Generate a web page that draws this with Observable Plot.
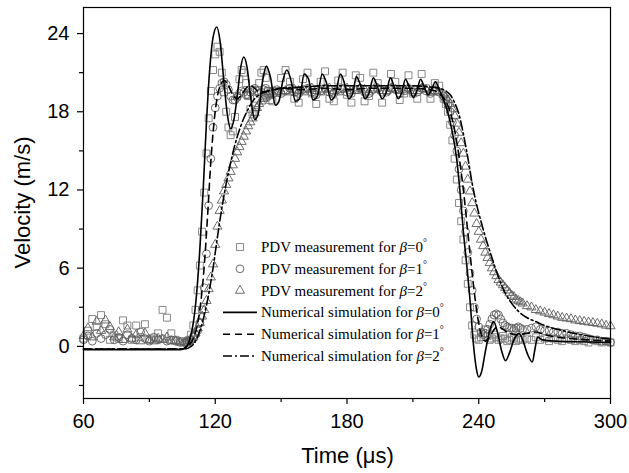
<!DOCTYPE html>
<html>
<head>
<meta charset="utf-8">
<script src="https://cdn.jsdelivr.net/npm/d3@7"></script>
<script src="https://cdn.jsdelivr.net/npm/@observablehq/plot@0.6"></script>
<style>
  html, body { margin: 0; padding: 0; background: white; }
  #chart { width: 629px; height: 473px; }
</style>
</head>
<body>
<div id="chart"></div>
<script>
// ---- axis ticks ----
const xTicks = [60, 120, 180, 240, 300];
const xMinor = [90, 150, 210, 270];
const yTicks = [0, 6, 12, 18, 24];
const yMinor = [-3, 3, 9, 15, 21];
const xLabel = "Time (μs)";
const yLabel = "Velocity (m/s)";

// ---- PDV measurement sampling times (µs) ----
const tMeas = [
  60,62,64,66,68,70,72,74,76,78,80,82,84,86,88,90,92,94,96,98,100,102,104,106,
  107,108,109,110,111,112,113,114,115,116,117,118,119,120,121,122,123,124,125,126,127,128,129,130,131,132,133,134,135,136,137,138,139,140,141,142,143,144,145,146,
  148,150,152,154,156,158,160,162,164,166,168,170,172,174,176,178,180,182,184,186,188,190,192,194,196,198,200,202,204,206,208,210,212,214,216,218,220,222,224,
  225,226,227,228,229,230,231,232,233,234,235,236,237,238,239,240,241,242,243,244,245,246,247,248,249,250,251,252,253,254,255,256,257,258,259,260,
  262,264,266,268,270,272,274,276,278,280,282,284,286,288,290,292,294,296,298,300
];
// PDV measurement, beta = 0 (squares)
const pdvBeta0 = [
  0.6,1.2,2.1,1.5,2.4,1.7,0.5,0.9,0.6,2.0,1.6,0.5,1.6,0.7,1.7,0.5,0.6,1.0,2.8,2.2,1.0,0.5,0.4,0.3,
  0.3,0.5,0.9,1.6,2.8,4.3,6.2,8.8,11.8,14.8,17.5,19.6,21.2,22.4,23.0,22.6,21.0,19.5,18.0,16.8,16.2,16.5,17.6,19.2,20.5,21.2,21.0,20.2,19.2,18.2,17.8,18.0,19.0,20.2,21.0,21.2,20.6,19.6,18.9,18.8,
  19.6,20.6,21.2,20.3,19.0,18.7,20.5,21.0,19.4,18.6,20.3,21.1,19.0,18.8,20.4,21.0,19.3,18.7,20.8,20.6,18.8,19.2,21.0,20.2,18.7,19.6,20.9,20.3,18.9,19.4,20.8,19.4,19.0,20.9,19.8,19.0,20.2,20.0,19.0,
  18.6,18.0,17.0,15.8,14.4,12.8,11.0,9.6,8.2,6.6,4.8,3.0,1.6,0.9,0.6,0.5,0.7,1.0,1.3,0.8,0.5,0.6,0.9,0.7,0.5,0.6,0.8,0.6,0.4,0.5,0.7,0.6,0.4,0.5,0.6,0.5,
  0.6,0.5,0.7,0.5,0.6,0.4,0.6,0.5,0.4,0.6,0.5,0.4,0.5,0.4,0.3,0.5,0.4,0.3,0.4,0.3
];
// PDV measurement, beta = 1 (circles)
const pdvBeta1 = [
  0.5,0.8,0.4,1.0,0.6,0.9,1.3,0.5,0.7,0.4,0.9,0.6,0.5,1.1,0.6,0.4,0.7,0.5,0.6,0.4,0.5,0.4,0.3,0.3,
  0.3,0.4,0.5,0.7,0.9,1.2,1.8,2.8,4.5,7.1,10.8,14.4,16.8,18.3,19.2,19.8,20.2,20.3,20.1,19.7,19.2,18.9,18.9,19.1,19.4,19.6,19.5,19.3,19.3,19.5,19.7,19.8,19.6,19.4,19.5,19.7,19.8,19.6,19.5,19.6,
  19.7,19.4,19.6,19.8,19.5,19.4,19.7,19.8,19.5,19.3,19.6,19.8,19.5,19.4,19.7,19.8,19.5,19.4,19.7,19.8,19.5,19.4,19.7,19.8,19.5,19.5,19.8,19.7,19.4,19.6,19.8,19.5,19.5,19.8,19.6,19.4,19.6,19.5,19.2,
  18.9,18.5,18.0,17.2,16.2,15.0,13.6,12.0,10.4,8.8,7.2,5.6,4.3,3.0,2.1,1.5,1.1,0.9,1.0,1.3,1.7,2.1,2.4,2.5,2.4,2.1,1.8,1.6,1.5,1.4,1.4,1.3,1.4,1.5,1.4,1.3,
  1.3,1.4,1.5,1.3,1.2,1.2,1.1,1.1,1.0,1.0,0.9,0.8,0.8,0.7,0.6,0.5,0.5,0.4,0.4,0.3
];
// PDV measurement, beta = 2 (triangles)
const pdvBeta2 = [
  0.8,1.4,0.7,1.9,1.2,2.0,1.5,0.7,1.1,0.5,1.3,0.6,0.9,0.4,1.0,0.5,0.4,0.6,0.5,0.7,0.4,0.4,0.3,0.3,
  0.3,0.4,0.5,0.7,1.0,1.4,1.8,2.3,2.8,3.5,4.4,5.3,6.3,7.8,9.2,10.4,11.2,11.9,12.4,12.9,13.4,13.9,14.4,14.9,15.3,15.7,16.1,16.5,16.9,17.2,17.5,17.9,18.3,18.6,18.8,19.0,19.1,19.2,19.3,19.4,
  19.4,19.5,19.6,19.5,19.7,19.6,19.5,19.7,19.8,19.6,19.5,19.7,19.8,19.6,19.5,19.7,19.8,19.6,19.6,19.8,19.7,19.5,19.7,19.8,19.6,19.6,19.8,19.7,19.6,19.7,19.8,19.6,19.6,19.8,19.7,19.5,19.6,19.5,19.3,
  19.1,18.9,18.6,18.2,17.7,17.1,16.4,15.6,14.8,13.8,12.8,11.9,11.0,10.2,9.4,8.8,8.2,7.7,7.2,6.8,6.4,6.0,5.7,5.4,5.1,4.9,4.7,4.5,4.3,4.1,3.9,3.8,3.6,3.5,3.4,3.3,
  3.1,3.0,2.8,2.7,2.6,2.5,2.4,2.3,2.2,2.15,2.1,2.0,1.95,1.9,1.85,1.8,1.75,1.7,1.6,1.55
];

// ---- numerical simulations ----
const simT0 = [60,104,107,108.5,110,111.5,113,114.5,116,117.5,119,120.7,122.2,124,125.5,127,128.5,130,131.5,133,134.5,136,138,139.5,141.5,143.3,145.2,147.4,149,150.8,152.6,154.5,156.5,158.4,160.5,162.5,164.5,166.5,168.7,170.5,172.8,174.7,177,179,180.8,182.6,184.3,186.2,188.2,190,192,193.9,196,197.9,199.8,201.5,203.3,205,206.6,208.3,210.2,211.8,213.5,215.2,217,218.7,220.3,222,224,226,228,230,231.5,233,234.5,236,237.5,239,240,241.2,243,245,246.8,248.5,250.5,252.2,254,256,258.3,260,262,264.4,265.6,266.8,269,275,285,300];
const simV0 = [-0.25,-0.25,0.0,0.6,1.8,4.0,7.5,12,17.2,21.3,23.7,24.5,23.4,20.2,17.8,16.7,17.4,19.2,21.3,22.2,21.4,19.3,17.4,17.8,20.3,21.5,20.6,18.5,18.8,20.4,21.2,20.4,18.8,19.0,20.9,20.5,18.9,19.2,20.9,20.3,18.9,19.3,20.9,20.1,19.0,19.4,20.7,20.0,19.0,19.4,20.6,19.9,19.0,19.5,20.6,19.9,19.0,19.5,20.5,19.9,19.1,19.6,20.5,19.9,19.3,19.8,20.3,19.7,18.9,17.9,16.4,14.3,11.8,8.8,6.3,3.6,0.3,-1.8,-2.35,-2.0,-0.4,1.2,1.9,1.1,-0.4,-1.1,-0.5,0.5,1.0,0.5,-0.5,-1.2,-0.2,0.7,0.5,0.4,0.35,0.3];
const simT1 = [60,105,108,110,112,113.5,115,116.5,118,119.5,121,122.5,124,126,128,130,132,134,136,138,140,145,150,160,170,180,190,200,210,218,222,225,227,229,231,233,235,237,239,241,243,245,247,249,251,254,258,262,266,270,276,282,290,300];
const simV1 = [-0.2,-0.2,0.1,0.6,1.8,3.5,6.2,10,14.2,17.3,19.2,20.1,20.4,20.0,19.3,19.0,19.3,19.8,20.0,19.8,19.5,19.6,19.8,19.7,19.8,19.7,19.8,19.8,19.8,19.7,19.4,18.8,18.0,16.6,14.6,12.0,8.8,5.6,2.8,1.0,0.4,0.7,1.3,1.5,1.3,1.0,0.9,1.0,1.1,0.9,0.7,0.6,0.5,0.4];
const simT2 = [60,106,109,111,113,115,117,119,121,123,125,127,129,131,133,135,137,140,144,150,160,170,180,190,200,210,218,222,225,227,229,231,233,235,237,239,241,243,246,249,252,255,258,262,266,270,276,282,290,300];
const simV2 = [-0.2,-0.2,0.0,0.4,1.2,2.4,4.0,6.0,8.4,10.6,12.5,14.1,15.5,16.6,17.5,18.2,18.8,19.3,19.6,19.8,19.9,20.0,20.0,20.0,20.0,20.0,19.9,19.8,19.6,19.3,18.7,17.8,16.3,14.5,12.5,10.9,9.6,8.4,6.8,5.3,4.1,3.3,2.7,2.2,1.9,1.6,1.3,1.05,0.8,0.55];

// ---- legend ----
const legendPrefix = ["PDV measurement for ", "PDV measurement for ", "PDV measurement for ",
                      "Numerical simulation for ", "Numerical simulation for ", "Numerical simulation for "];
const legendBeta = ["0", "1", "2", "0", "1", "2"];

// styles
const markerStyles = [
  {symbol: "square", r: 3.9, stroke: "#7a7a7a"},
  {symbol: "circle", r: 3.9, stroke: "#5e5e5e"},
  {symbol: "triangle", r: 3.4, stroke: "#5e5e5e"}
];
const lineDash = [null, "7,5", "9,3,2,3"];
const pdvSeries = [pdvBeta0, pdvBeta1, pdvBeta2];
const simSeries = [[simT0, simV0], [simT1, simV1], [simT2, simV2]];

const marks = [];
pdvSeries.forEach((vals, i) => {
  const s = markerStyles[i];
  marks.push(Plot.dot(tMeas, {x: tMeas, y: vals, symbol: s.symbol, r: s.r, stroke: s.stroke, fill: "none", strokeWidth: 0.9}));
});
simSeries.forEach(([ts, vs], i) => {
  marks.push(Plot.line(ts, {x: ts, y: vs, curve: "monotone-x", stroke: "black", strokeWidth: 1.6,
    strokeDasharray: lineDash[i] || undefined}));
});

const chart = Plot.plot({
  width: 629, height: 473,
  marginLeft: 83, marginRight: 19, marginTop: 7, marginBottom: 75,
  style: {fontFamily: "'Liberation Sans', Arial, sans-serif", fontSize: "20px", color: "black", background: "white"},
  x: {domain: [60, 300]},
  y: {domain: [-4, 26]},
  marks: [
    ...marks,
    Plot.frame({stroke: "black", strokeWidth: 1.2}),
    Plot.axisX({ticks: xTicks, tickSize: 6, tickPadding: 9, label: null, fontSize: 20, strokeWidth: 1.2}),
    Plot.axisX({ticks: xMinor, tickSize: 4, tickFormat: () => "", label: null, strokeWidth: 1.2}),
    Plot.axisY({ticks: yTicks, tickSize: 6, tickPadding: 8, label: null, fontSize: 20, strokeWidth: 1.2}),
    Plot.axisY({ticks: yMinor, tickSize: 4, tickFormat: () => "", label: null, strokeWidth: 1.2})
  ]
});
document.getElementById("chart").appendChild(chart);

const svg = d3.select(chart);
const xs = chart.scale("x"), ys = chart.scale("y");
const cx = (xs.range[0] + xs.range[1]) / 2;
const cy = (ys.range[0] + ys.range[1]) / 2;

// axis labels
svg.append("text").attr("x", cx + 1).attr("y", 463).attr("text-anchor", "middle")
  .attr("font-family", "'Liberation Sans', Arial, sans-serif").attr("font-size", 22).attr("font-weight", "normal").attr("fill", "black").text(xLabel);
svg.append("text").attr("transform", `translate(30,${cy}) rotate(-90)`).attr("text-anchor", "middle")
  .attr("font-family", "'Liberation Sans', Arial, sans-serif").attr("font-size", 22).attr("font-weight", "normal").attr("fill", "black").text(yLabel);

// legend
const lg = svg.append("g").attr("font-family", "'Liberation Serif', 'Times New Roman', serif")
  .attr("font-size", 15).attr("fill", "black").attr("text-anchor", "start");
const symTypes = {square: d3.symbolSquare, circle: d3.symbolCircle, triangle: d3.symbolTriangle};
legendPrefix.forEach((txt, i) => {
  const y = 247 + i * 21.8;
  if (i < 3) {
    const s = markerStyles[i];
    lg.append("path").attr("transform", `translate(240,${y})`)
      .attr("d", d3.symbol(symTypes[s.symbol], Math.PI * s.r * s.r)())
      .attr("fill", "none").attr("stroke", s.stroke).attr("stroke-width", 0.9);
  } else {
    const ln = lg.append("line").attr("x1", 223).attr("x2", 257).attr("y1", y).attr("y2", y)
      .attr("stroke", "black").attr("stroke-width", 1.6);
    if (lineDash[i - 3]) ln.attr("stroke-dasharray", lineDash[i - 3]);
  }
  const t = lg.append("text").attr("x", 261).attr("y", y + 5).attr("text-anchor", "start");
  t.append("tspan").text(txt);
  t.append("tspan").attr("font-style", "italic").text("β");
  t.append("tspan").text("=" + legendBeta[i]);
  t.append("tspan").attr("dy", -6).attr("font-size", 10).text("°");
});
</script>
</body>
</html>
